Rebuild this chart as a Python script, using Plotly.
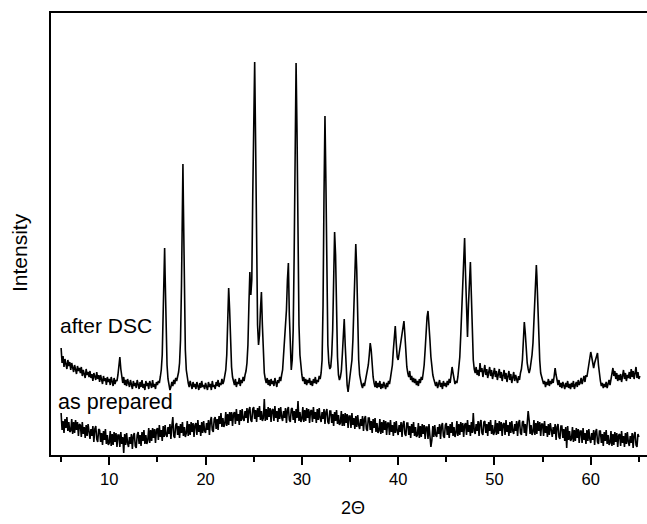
import plotly.graph_objects as go

# ---- "after DSC" pattern: 2-theta (deg) and intensity (arb. units)
dsc_2theta = [
    5.0, 5.1, 5.2, 5.3, 5.4, 5.5, 5.6, 5.7, 5.8, 5.9,
    6.0, 6.1, 6.2, 6.3, 6.4, 6.5, 6.6, 6.7, 6.8, 6.9,
    7.0, 7.1, 7.2, 7.3, 7.4, 7.5, 7.6, 7.7, 7.8, 7.9,
    8.0, 8.1, 8.2, 8.3, 8.4, 8.5, 8.6, 8.7, 8.8, 8.9,
    9.0, 9.1, 9.2, 9.3, 9.4, 9.5, 9.6, 9.7, 9.8, 9.9,
    10.0, 10.1, 10.2, 10.3, 10.4, 10.5, 10.6, 10.7, 10.8, 10.9,
    11.0, 11.1, 11.2, 11.3, 11.4, 11.5, 11.6, 11.7, 11.8, 11.9,
    12.0, 12.1, 12.2, 12.3, 12.4, 12.5, 12.6, 12.7, 12.8, 12.9,
    13.0, 13.1, 13.2, 13.3, 13.4, 13.5, 13.6, 13.7, 13.8, 13.9,
    14.0, 14.1, 14.2, 14.3, 14.4, 14.5, 14.6, 14.7, 14.8, 14.9,
    15.0, 15.1, 15.2, 15.3, 15.4, 15.5, 15.6, 15.7, 15.75, 15.8, 15.9,
    16.0, 16.1, 16.2, 16.3, 16.4, 16.5, 16.6, 16.7, 16.8, 16.9,
    17.0, 17.1, 17.2, 17.3, 17.4, 17.5, 17.6, 17.65, 17.7, 17.8, 17.9,
    18.0, 18.1, 18.2, 18.3, 18.4, 18.5, 18.6, 18.7, 18.8, 18.9,
    19.0, 19.1, 19.2, 19.3, 19.4, 19.5, 19.6, 19.7, 19.8, 19.9,
    20.0, 20.1, 20.2, 20.3, 20.4, 20.5, 20.6, 20.7, 20.8, 20.9,
    21.0, 21.1, 21.2, 21.3, 21.4, 21.5, 21.6, 21.7, 21.8, 21.9,
    22.0, 22.1, 22.2, 22.3, 22.4, 22.5, 22.6, 22.7, 22.8, 22.9,
    23.0, 23.1, 23.2, 23.3, 23.4, 23.5, 23.6, 23.7, 23.8, 23.9,
    24.0, 24.1, 24.2, 24.3, 24.4, 24.5, 24.6, 24.7, 24.8, 24.9,
    25.0, 25.1, 25.2, 25.3, 25.4, 25.5, 25.6, 25.7, 25.8, 25.9,
    26.0, 26.1, 26.2, 26.3, 26.4, 26.5, 26.6, 26.7, 26.8, 26.9,
    27.0, 27.1, 27.2, 27.3, 27.4, 27.5, 27.6, 27.7, 27.8, 27.9,
    28.0, 28.1, 28.2, 28.3, 28.4, 28.5, 28.6, 28.7, 28.8, 28.9,
    29.0, 29.1, 29.2, 29.3, 29.4, 29.5, 29.6, 29.7, 29.8, 29.9,
    30.0, 30.1, 30.2, 30.3, 30.4, 30.5, 30.6, 30.7, 30.8, 30.9,
    31.0, 31.1, 31.2, 31.3, 31.4, 31.5, 31.6, 31.7, 31.8, 31.9,
    32.0, 32.1, 32.2, 32.3, 32.4, 32.5, 32.6, 32.7, 32.8, 32.9,
    33.0, 33.1, 33.2, 33.3, 33.4, 33.5, 33.6, 33.7, 33.8, 33.9,
    34.0, 34.1, 34.2, 34.3, 34.4, 34.5, 34.6, 34.7, 34.8, 34.9,
    35.0, 35.1, 35.2, 35.3, 35.4, 35.5, 35.6, 35.7, 35.8, 35.9,
    36.0, 36.1, 36.2, 36.3, 36.4, 36.5, 36.6, 36.7, 36.8, 36.9,
    37.0, 37.1, 37.2, 37.3, 37.4, 37.5, 37.6, 37.7, 37.8, 37.9,
    38.0, 38.1, 38.2, 38.3, 38.4, 38.5, 38.6, 38.7, 38.8, 38.9,
    39.0, 39.1, 39.2, 39.3, 39.4, 39.5, 39.6, 39.7, 39.8, 39.9,
    40.0, 40.1, 40.2, 40.3, 40.4, 40.5, 40.6, 40.7, 40.8, 40.9,
    41.0, 41.1, 41.2, 41.3, 41.4, 41.5, 41.6, 41.7, 41.8, 41.9,
    42.0, 42.1, 42.2, 42.3, 42.4, 42.5, 42.6, 42.7, 42.8, 42.9,
    43.0, 43.1, 43.2, 43.3, 43.4, 43.5, 43.6, 43.7, 43.8, 43.9,
    44.0, 44.1, 44.2, 44.3, 44.4, 44.5, 44.6, 44.7, 44.8, 44.9,
    45.0, 45.1, 45.2, 45.3, 45.4, 45.5, 45.6, 45.7, 45.8, 45.9,
    46.0, 46.1, 46.2, 46.3, 46.4, 46.5, 46.6, 46.7, 46.8, 46.9,
    47.0, 47.1, 47.2, 47.3, 47.4, 47.5, 47.6, 47.7, 47.8, 47.9,
    48.0, 48.1, 48.2, 48.3, 48.4, 48.5, 48.6, 48.7, 48.8, 48.9,
    49.0, 49.1, 49.2, 49.3, 49.4, 49.5, 49.6, 49.7, 49.8, 49.9,
    50.0, 50.1, 50.2, 50.3, 50.4, 50.5, 50.6, 50.7, 50.8, 50.9,
    51.0, 51.1, 51.2, 51.3, 51.4, 51.5, 51.6, 51.7, 51.8, 51.9,
    52.0, 52.1, 52.2, 52.3, 52.4, 52.5, 52.6, 52.7, 52.8, 52.9,
    53.0, 53.1, 53.2, 53.3, 53.4, 53.5, 53.6, 53.7, 53.8, 53.9,
    54.0, 54.1, 54.2, 54.3, 54.35, 54.4, 54.5, 54.6, 54.7, 54.8, 54.9,
    55.0, 55.1, 55.2, 55.3, 55.4, 55.5, 55.6, 55.7, 55.8, 55.9,
    56.0, 56.1, 56.2, 56.3, 56.4, 56.5, 56.6, 56.7, 56.8, 56.9,
    57.0, 57.1, 57.2, 57.3, 57.4, 57.5, 57.6, 57.7, 57.8, 57.9,
    58.0, 58.1, 58.2, 58.3, 58.4, 58.5, 58.6, 58.7, 58.8, 58.9,
    59.0, 59.1, 59.2, 59.3, 59.4, 59.5, 59.6, 59.7, 59.8, 59.9,
    60.0, 60.1, 60.2, 60.3, 60.4, 60.5, 60.6, 60.7, 60.8, 60.9,
    61.0, 61.1, 61.2, 61.3, 61.4, 61.5, 61.6, 61.7, 61.8, 61.9,
    62.0, 62.1, 62.2, 62.3, 62.4, 62.5, 62.6, 62.7, 62.8, 62.9,
    63.0, 63.1, 63.2, 63.3, 63.4, 63.5, 63.6, 63.7, 63.8, 63.9,
    64.0, 64.1, 64.2, 64.3, 64.4, 64.5, 64.6, 64.7, 64.8, 64.9,
    65.0, 65.1,
]
dsc_counts = [
    107, 92, 99, 88, 96, 91, 86, 95, 89, 93,
    85, 92, 87, 83, 90, 86, 81, 89, 84, 87,
    82, 88, 79, 85, 81, 77, 86, 80, 83, 78,
    84, 77, 81, 74, 82, 78, 75, 83, 76, 80,
    73, 80, 76, 71, 79, 74, 77, 70, 78, 73,
    76, 70, 78, 72, 69, 77, 71, 75, 74, 80,
    88, 98, 86, 77, 72, 78, 70, 75, 69, 76,
    71, 68, 75, 70, 66, 74, 69, 72, 67, 75,
    70, 66, 73, 68, 75, 67, 71, 65, 74, 69,
    72, 66, 74, 69, 67, 75, 68, 71, 66, 73,
    70, 74, 72, 78, 85, 100, 140, 195, 207, 180, 120,
    90, 76, 70, 65, 68, 73, 69, 75, 71, 77,
    74, 79, 83, 92, 115, 170, 265, 291, 250, 170, 105,
    85, 76, 72, 68, 74, 70, 66, 73, 68, 71,
    66, 73, 69, 65, 72, 67, 74, 68, 70, 66,
    72, 67, 65, 73, 68, 71, 65, 74, 68, 70,
    66, 73, 69, 75, 68, 72, 70, 76, 71, 74,
    79, 85, 100, 140, 167, 145, 105, 88, 78, 73,
    70, 76, 68, 73, 71, 77, 69, 75, 72, 78,
    74, 80, 84, 92, 110, 150, 183, 160, 175, 260,
    350, 393, 310, 200, 130, 110, 120, 145, 163, 130,
    95, 82, 76, 72, 77, 70, 75, 69, 76, 71,
    74, 69, 77, 71, 68, 75, 72, 78, 74, 80,
    85, 100, 118, 125, 145, 175, 192, 140, 95, 85,
    95, 125, 200, 330, 392, 320, 200, 130, 100, 88,
    80, 74, 78, 71, 76, 70, 75, 72, 77, 70,
    74, 69, 76, 72, 78, 71, 75, 73, 79, 76,
    82, 95, 150, 260, 339, 270, 160, 110, 92, 86,
    88, 100, 125, 180, 223, 200, 140, 98, 80, 75,
    78, 84, 100, 125, 136, 110, 82, 70, 63, 72,
    78, 85, 95, 115, 150, 195, 211, 185, 130, 95,
    80, 73, 70, 67, 72, 69, 74, 76, 82, 90,
    100, 112, 105, 90, 78, 72, 68, 74, 67, 72,
    68, 74, 66, 71, 67, 73, 69, 66, 72, 68,
    74, 71, 77, 82, 90, 105, 122, 129, 112, 98,
    95, 102, 110, 118, 125, 130, 134, 120, 100, 88,
    82, 78, 84, 75, 79, 73, 77, 72, 76, 70,
    74, 69, 76, 72, 78, 75, 82, 90, 105, 125,
    138, 144, 132, 115, 98, 88, 80, 76, 72, 69,
    73, 67, 71, 75, 68, 72, 66, 74, 69, 72,
    68, 74, 70, 76, 72, 80, 88, 82, 75, 71,
    74, 72, 78, 86, 98, 120, 150, 180, 205, 217,
    180, 130, 118, 150, 180, 193, 160, 120, 95, 86,
    82, 88, 80, 85, 79, 92, 83, 87, 78, 84,
    90, 80, 86, 77, 83, 88, 79, 85, 76, 82,
    87, 78, 84, 75, 81, 86, 77, 83, 74, 80,
    85, 76, 82, 73, 79, 84, 75, 81, 72, 78,
    83, 74, 80, 76, 72, 79, 75, 82, 86, 95,
    118, 133, 122, 105, 92, 86, 82, 86, 92, 100,
    112, 135, 165, 185, 190, 180, 150, 115, 95, 82, 78,
    75, 71, 74, 68, 73, 70, 76, 69, 74, 71,
    76, 72, 79, 87, 80, 74, 70, 75, 68, 72,
    67, 73, 69, 66, 72, 68, 74, 67, 71, 66,
    72, 68, 74, 66, 70, 73, 68, 75, 70, 72,
    77, 71, 75, 79, 73, 80, 78, 84, 90, 96,
    103, 98, 90, 87, 92, 96, 100, 102, 90, 80,
    74, 69, 72, 67, 71, 68, 73, 67, 72, 75,
    70, 77, 82, 87, 79, 84, 76, 82, 74, 80,
    75, 81, 73, 79, 85, 76, 82, 74, 80, 77,
    83, 76, 86, 78, 84, 76, 82, 88, 77, 83,
    76, 79,
]

# ---- "as prepared" pattern (amorphous)
prep_2theta = [
    5.0, 5.1, 5.2, 5.3, 5.4, 5.5, 5.6, 5.7, 5.8, 5.9,
    6.0, 6.1, 6.2, 6.3, 6.4, 6.5, 6.6, 6.7, 6.8, 6.9,
    7.0, 7.1, 7.2, 7.3, 7.4, 7.5, 7.6, 7.7, 7.8, 7.9,
    8.0, 8.1, 8.2, 8.3, 8.4, 8.5, 8.6, 8.7, 8.8, 8.9,
    9.0, 9.1, 9.2, 9.3, 9.4, 9.5, 9.6, 9.7, 9.8, 9.9,
    10.0, 10.1, 10.2, 10.3, 10.4, 10.5, 10.6, 10.7, 10.8, 10.9,
    11.0, 11.1, 11.2, 11.3, 11.4, 11.5, 11.6, 11.7, 11.8, 11.9,
    12.0, 12.1, 12.2, 12.3, 12.4, 12.5, 12.6, 12.7, 12.8, 12.9,
    13.0, 13.1, 13.2, 13.3, 13.4, 13.5, 13.6, 13.7, 13.8, 13.9,
    14.0, 14.1, 14.2, 14.3, 14.4, 14.5, 14.6, 14.7, 14.8, 14.9,
    15.0, 15.1, 15.2, 15.3, 15.4, 15.5, 15.6, 15.7, 15.8, 15.9,
    16.0, 16.1, 16.2, 16.3, 16.4, 16.5, 16.6, 16.7, 16.8, 16.9,
    17.0, 17.1, 17.2, 17.3, 17.4, 17.5, 17.6, 17.7, 17.8, 17.9,
    18.0, 18.1, 18.2, 18.3, 18.4, 18.5, 18.6, 18.7, 18.8, 18.9,
    19.0, 19.1, 19.2, 19.3, 19.4, 19.5, 19.6, 19.7, 19.8, 19.9,
    20.0, 20.1, 20.2, 20.3, 20.4, 20.5, 20.6, 20.7, 20.8, 20.9,
    21.0, 21.1, 21.2, 21.3, 21.4, 21.5, 21.6, 21.7, 21.8, 21.9,
    22.0, 22.1, 22.2, 22.3, 22.4, 22.5, 22.6, 22.7, 22.8, 22.9,
    23.0, 23.1, 23.2, 23.3, 23.4, 23.5, 23.6, 23.7, 23.8, 23.9,
    24.0, 24.1, 24.2, 24.3, 24.4, 24.5, 24.6, 24.7, 24.8, 24.9,
    25.0, 25.1, 25.2, 25.3, 25.4, 25.5, 25.6, 25.7, 25.8, 25.9,
    26.0, 26.1, 26.2, 26.3, 26.4, 26.5, 26.6, 26.7, 26.8, 26.9,
    27.0, 27.1, 27.2, 27.3, 27.4, 27.5, 27.6, 27.7, 27.8, 27.9,
    28.0, 28.1, 28.2, 28.3, 28.4, 28.5, 28.6, 28.7, 28.8, 28.9,
    29.0, 29.1, 29.2, 29.3, 29.4, 29.5, 29.6, 29.7, 29.8, 29.9,
    30.0, 30.1, 30.2, 30.3, 30.4, 30.5, 30.6, 30.7, 30.8, 30.9,
    31.0, 31.1, 31.2, 31.3, 31.4, 31.5, 31.6, 31.7, 31.8, 31.9,
    32.0, 32.1, 32.2, 32.3, 32.4, 32.5, 32.6, 32.7, 32.8, 32.9,
    33.0, 33.1, 33.2, 33.3, 33.4, 33.5, 33.6, 33.7, 33.8, 33.9,
    34.0, 34.1, 34.2, 34.3, 34.4, 34.5, 34.6, 34.7, 34.8, 34.9,
    35.0, 35.1, 35.2, 35.3, 35.4, 35.5, 35.6, 35.7, 35.8, 35.9,
    36.0, 36.1, 36.2, 36.3, 36.4, 36.5, 36.6, 36.7, 36.8, 36.9,
    37.0, 37.1, 37.2, 37.3, 37.4, 37.5, 37.6, 37.7, 37.8, 37.9,
    38.0, 38.1, 38.2, 38.3, 38.4, 38.5, 38.6, 38.7, 38.8, 38.9,
    39.0, 39.1, 39.2, 39.3, 39.4, 39.5, 39.6, 39.7, 39.8, 39.9,
    40.0, 40.1, 40.2, 40.3, 40.4, 40.5, 40.6, 40.7, 40.8, 40.9,
    41.0, 41.1, 41.2, 41.3, 41.4, 41.5, 41.6, 41.7, 41.8, 41.9,
    42.0, 42.1, 42.2, 42.3, 42.4, 42.5, 42.6, 42.7, 42.8, 42.9,
    43.0, 43.1, 43.2, 43.3, 43.4, 43.5, 43.6, 43.7, 43.8, 43.9,
    44.0, 44.1, 44.2, 44.3, 44.4, 44.5, 44.6, 44.7, 44.8, 44.9,
    45.0, 45.1, 45.2, 45.3, 45.4, 45.5, 45.6, 45.7, 45.8, 45.9,
    46.0, 46.1, 46.2, 46.3, 46.4, 46.5, 46.6, 46.7, 46.8, 46.9,
    47.0, 47.1, 47.2, 47.3, 47.4, 47.5, 47.6, 47.7, 47.8, 47.9,
    48.0, 48.1, 48.2, 48.3, 48.4, 48.5, 48.6, 48.7, 48.8, 48.9,
    49.0, 49.1, 49.2, 49.3, 49.4, 49.5, 49.6, 49.7, 49.8, 49.9,
    50.0, 50.1, 50.2, 50.3, 50.4, 50.5, 50.6, 50.7, 50.8, 50.9,
    51.0, 51.1, 51.2, 51.3, 51.4, 51.5, 51.6, 51.7, 51.8, 51.9,
    52.0, 52.1, 52.2, 52.3, 52.4, 52.5, 52.6, 52.7, 52.8, 52.9,
    53.0, 53.1, 53.2, 53.3, 53.4, 53.5, 53.6, 53.7, 53.8, 53.9,
    54.0, 54.1, 54.2, 54.3, 54.4, 54.5, 54.6, 54.7, 54.8, 54.9,
    55.0, 55.1, 55.2, 55.3, 55.4, 55.5, 55.6, 55.7, 55.8, 55.9,
    56.0, 56.1, 56.2, 56.3, 56.4, 56.5, 56.6, 56.7, 56.8, 56.9,
    57.0, 57.1, 57.2, 57.3, 57.4, 57.5, 57.6, 57.7, 57.8, 57.9,
    58.0, 58.1, 58.2, 58.3, 58.4, 58.5, 58.6, 58.7, 58.8, 58.9,
    59.0, 59.1, 59.2, 59.3, 59.4, 59.5, 59.6, 59.7, 59.8, 59.9,
    60.0, 60.1, 60.2, 60.3, 60.4, 60.5, 60.6, 60.7, 60.8, 60.9,
    61.0, 61.1, 61.2, 61.3, 61.4, 61.5, 61.6, 61.7, 61.8, 61.9,
    62.0, 62.1, 62.2, 62.3, 62.4, 62.5, 62.6, 62.7, 62.8, 62.9,
    63.0, 63.1, 63.2, 63.3, 63.4, 63.5, 63.6, 63.7, 63.8, 63.9,
    64.0, 64.1, 64.2, 64.3, 64.4, 64.5, 64.6, 64.7, 64.8, 64.9,
    65.0,
]
prep_counts = [
    42, 25, 34, 22, 36, 27, 38, 24, 33, 23,
    24, 36, 21, 33, 22, 35, 25, 33, 19, 31,
    30, 18, 33, 21, 28, 17, 30, 19, 31, 21,
    16, 26, 19, 29, 13, 26, 29, 16, 13, 26,
    25, 13, 22, 10, 24, 15, 26, 11, 20, 10,
    12, 24, 9, 21, 10, 23, 13, 22, 8, 20,
    20, 8, 23, 11, 18, 2, 21, 10, 22, 12,
    8, 18, 11, 21, 6, 19, 22, 9, 7, 20,
    23, 11, 20, 9, 23, 14, 25, 11, 20, 11,
    15, 27, 12, 25, 14, 27, 17, 26, 12, 25,
    27, 15, 30, 18, 25, 14, 29, 18, 30, 20,
    18, 28, 21, 31, 16, 29, 38, 19, 17, 30,
    32, 20, 29, 17, 31, 22, 33, 19, 28, 18,
    22, 34, 19, 31, 20, 33, 23, 32, 18, 30,
    32, 20, 35, 23, 30, 19, 33, 22, 34, 24,
    22, 32, 25, 35, 20, 34, 38, 25, 23, 36,
    38, 26, 36, 25, 39, 31, 42, 28, 37, 28,
    31, 43, 29, 41, 30, 43, 34, 43, 29, 41,
    43, 31, 46, 34, 41, 30, 45, 34, 46, 36,
    34, 44, 37, 47, 32, 45, 48, 35, 33, 46,
    48, 36, 45, 33, 47, 38, 49, 35, 44, 34,
    37, 56, 34, 46, 35, 48, 38, 47, 33, 45,
    46, 34, 49, 37, 44, 33, 47, 36, 48, 38,
    34, 44, 37, 47, 32, 45, 48, 35, 33, 46,
    47, 35, 44, 32, 46, 37, 54, 34, 43, 33,
    36, 48, 33, 45, 34, 47, 37, 46, 32, 44,
    45, 33, 48, 36, 43, 32, 46, 35, 47, 37,
    33, 43, 36, 46, 31, 43, 46, 33, 31, 44,
    44, 32, 41, 29, 43, 34, 45, 31, 40, 30,
    32, 44, 29, 41, 29, 42, 32, 41, 27, 39,
    39, 27, 42, 30, 37, 26, 39, 28, 40, 30,
    26, 36, 29, 39, 24, 36, 39, 26, 24, 37,
    37, 25, 34, 22, 36, 27, 37, 23, 32, 22,
    24, 36, 21, 33, 22, 35, 25, 34, 20, 32,
    32, 20, 35, 23, 30, 19, 33, 22, 34, 24,
    20, 30, 23, 33, 18, 31, 34, 21, 19, 32,
    32, 20, 29, 17, 31, 22, 33, 19, 28, 18,
    20, 32, 17, 29, 18, 31, 21, 30, 16, 28,
    28, 16, 31, 19, 8, 15, 29, 18, 30, 20,
    18, 28, 21, 31, 16, 29, 32, 19, 17, 30,
    32, 20, 29, 17, 31, 22, 33, 19, 28, 18,
    22, 34, 19, 31, 20, 33, 23, 32, 18, 30,
    32, 20, 35, 23, 30, 19, 33, 22, 42, 24,
    21, 31, 24, 34, 19, 32, 35, 22, 20, 33,
    34, 22, 31, 19, 33, 24, 35, 21, 30, 20,
    23, 35, 20, 32, 21, 34, 24, 33, 19, 31,
    32, 20, 35, 23, 30, 19, 33, 22, 34, 24,
    21, 31, 24, 34, 19, 32, 35, 22, 20, 33,
    34, 22, 31, 19, 33, 44, 35, 21, 30, 20,
    23, 35, 20, 32, 21, 34, 24, 33, 19, 31,
    31, 19, 34, 22, 29, 18, 31, 20, 32, 22,
    18, 28, 21, 31, 15, 28, 31, 18, 16, 29,
    29, 17, 26, 14, 28, 7, 29, 15, 24, 14,
    16, 28, 13, 25, 14, 27, 17, 26, 12, 24,
    24, 12, 27, 15, 22, 11, 25, 14, 26, 16,
    12, 22, 15, 25, 10, 23, 26, 13, 11, 24,
    24, 12, 21, 9, 23, 14, 25, 11, 20, 10,
    12, 24, 9, 21, 10, 23, 13, 22, 8, 20,
    21, 9, 24, 12, 19, 8, 22, 11, 23, 13,
    9, 19, 12, 22, 7, 20, 23, 10, 8, 21,
    18,
]

x_tick_vals = [10, 20, 30, 40, 50, 60]
x_minor_vals = [5, 15, 25, 35, 45, 55, 65]
series_labels = ["after DSC", "as prepared"]

FONT = "Liberation Sans, Arial, sans-serif"

fig = go.Figure()
fig.add_trace(go.Scatter(x=dsc_2theta, y=dsc_counts, mode="lines",
                         line=dict(color="black", width=1.6), showlegend=False))
fig.add_trace(go.Scatter(x=prep_2theta, y=prep_counts, mode="lines",
                         line=dict(color="black", width=1.6), showlegend=False))

fig.update_layout(
    width=647, height=524,
    margin=dict(l=51, r=0, t=13, b=69),
    paper_bgcolor="white", plot_bgcolor="white",
    font=dict(family=FONT, color="black"),
    xaxis=dict(
        range=[3.95, 65.84], showgrid=False, zeroline=False,
        showline=True, linecolor="black", linewidth=2, mirror=True,
        ticks="outside", ticklen=8, tickwidth=2, tickcolor="black",
        tickvals=x_tick_vals, ticktext=[str(v) for v in x_tick_vals],
        tickfont=dict(size=16.5, family=FONT, color="black"),
        minor=dict(ticks="outside", ticklen=5, tickwidth=1.5, tickcolor="black",
                   tickvals=x_minor_vals, showgrid=False),
    ),
    yaxis=dict(
        range=[0, 442], showgrid=False, zeroline=False,
        showline=True, linecolor="black", linewidth=2, mirror=False,
        ticks="", showticklabels=False,
    ),
    annotations=[
        dict(text="Intensity", xref="paper", yref="paper", x=(19 - 51) / 596,
             y=(455 - 253) / 442, textangle=-90, showarrow=False,
             font=dict(size=21, family=FONT), xanchor="center", yanchor="middle"),
        dict(text="2Θ", xref="paper", yref="paper", x=(353 - 51) / 596,
             y=(455 - 507.5) / 442, showarrow=False,
             font=dict(size=18, family=FONT), xanchor="center", yanchor="middle"),
        dict(text=series_labels[0], xref="paper", yref="paper", x=(58 - 51) / 596,
             y=(455 - 326) / 442, showarrow=False,
             font=dict(size=21, family=FONT), xanchor="left", yanchor="middle"),
        dict(text=series_labels[1], xref="paper", yref="paper", x=(56 - 51) / 596,
             y=(455 - 402) / 442, showarrow=False,
             font=dict(size=21.5, family=FONT), xanchor="left", yanchor="middle"),
    ],
)

fig.write_html("out.html", config={"displayModeBar": False},
               post_script="document.body.style.margin='0';")
